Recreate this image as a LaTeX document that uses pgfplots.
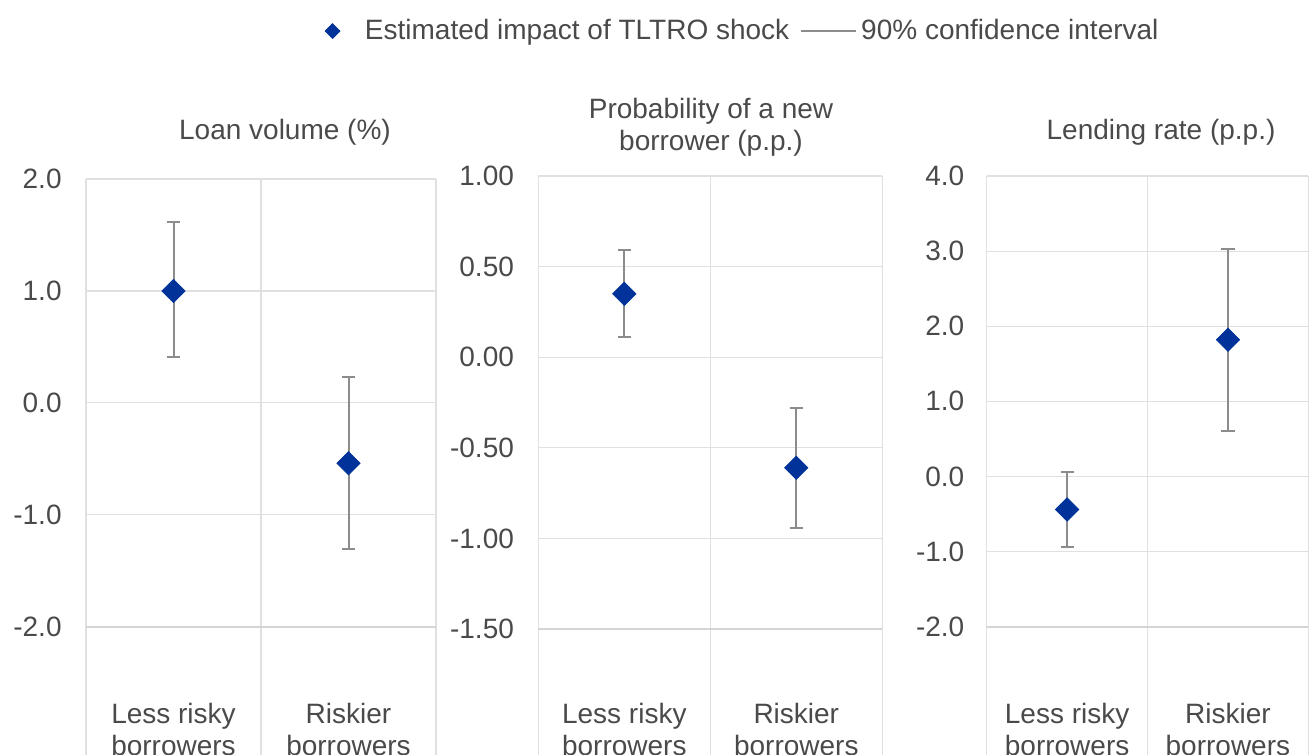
\documentclass[border=0pt]{standalone}
\usepackage{fontspec}
\setmainfont{Liberation Sans}
\usepackage{pgfplots}
\pgfplotsset{compat=1.18}
\definecolor{ecbblue}{HTML}{003299}
\definecolor{txt}{HTML}{4A4A4A}
\definecolor{gridc}{HTML}{E0E0E0}
\definecolor{axc}{HTML}{D4D4D4}
\definecolor{errc}{HTML}{8C8C8C}
\pgfplotsset{
  panel/.style={
    anchor=south west, scale only axis,
    xmin=0, xmax=2, clip=false,
    axis line style={draw=none},
    major tick length=0pt,
    ymajorgrids, grid style={gridc, line width=0.6pt},
    xtick={0.5,1.5},
    xticklabels={{Less risky\\borrowers},{Riskier\\borrowers}},
    xticklabel style={align=center, anchor=north, inner sep=0pt, yshift=-38pt, font=\fontsize{14}{16}\selectfont, text=txt},
    yticklabel style={anchor=east, inner sep=0pt, xshift=-12pt, font=\fontsize{14}{16}\selectfont, text=txt},
  },
  pts/.style={only marks, mark=square*, mark size=4.1pt,
    mark options={rotate=45, fill=ecbblue, draw=ecbblue},
    error bars/.cd, y dir=both, y explicit,
    error mark=|,
    error bar style={errc, line width=1pt},
    error mark options={errc, line width=1pt, mark size=3.3pt},
    /pgfplots/.cd},
}
\newcommand{\vlines}[2]{%
  \draw[gridc, line width=0.6pt] (axis cs:0,#1) -- (axis cs:0,#2) -- ([yshift=-80pt]axis cs:0,#2);
  \draw[gridc, line width=0.6pt] (axis cs:1,#1) -- (axis cs:1,#2) -- ([yshift=-80pt]axis cs:1,#2);
  \draw[gridc, line width=0.6pt] (axis cs:2,#1) -- (axis cs:2,#2) -- ([yshift=-80pt]axis cs:2,#2);
  \draw[axc, line width=1pt] (axis cs:0,#2) -- (axis cs:2,#2);
}
\begin{document}
\begin{tikzpicture}
\clip (0,0) rectangle (654.5pt,377pt);
% Panel 1
\begin{axis}[panel, at={(43pt,63.65pt)}, width=175pt, height=223.85pt,
  ymin=-2, ymax=2, ytick={-2,-1,0,1,2}, yticklabels={-2.0,-1.0,0.0,1.0,2.0}]
\vlines{2}{-2}
\addplot[pts] coordinates {(0.5,1.00) += (0,0.62) -= (0,0.59) (1.5,-0.54) += (0,0.77) -= (0,0.77)};
\end{axis}
% Panel 2
\begin{axis}[panel, at={(269.15pt,62.5pt)}, width=172pt, height=226.5pt,
  ymin=-1.5, ymax=1, ytick={-1.5,-1,-0.5,0,0.5,1}, yticklabels={-1.50,-1.00,-0.50,0.00,0.50,1.00},
  xticklabel style={yshift=1.2pt},
  legend columns=2,
  legend style={at={(axis description cs:0.585,1.32)}, anchor=center, draw=none, fill=none,
    font=\fontsize{14}{16}\selectfont, text=txt, inner sep=0pt,
    /tikz/every even column/.append style={column sep=3.5pt}},
  ]
\vlines{1}{-1.5}
\addlegendimage{legend image code/.code={\path[draw=none] (0pt,0pt) -- (22.2pt,0pt);\fill[ecbblue] (8pt,3.7pt)--(11.7pt,0pt)--(8pt,-3.7pt)--(4.3pt,0pt)--cycle;}}
\addlegendentry{Estimated impact of TLTRO shock}
\addlegendimage{legend image code/.code={\draw[errc, line width=1pt] (0pt,0pt)--(27.5pt,0pt);}}
\addlegendentry{90\% confidence interval}
\addplot[forget plot, pts] coordinates {(0.5,0.35) += (0,0.24) -= (0,0.24) (1.5,-0.61) += (0,0.33) -= (0,0.33)};
\end{axis}
% Panel 3
\begin{axis}[panel, at={(493.35pt,63.65pt)}, width=160.8pt, height=225.35pt,
  ymin=-2, ymax=4, ytick={-2,-1,0,1,2,3,4}, yticklabels={-2.0,-1.0,0.0,1.0,2.0,3.0,4.0},
  yticklabel style={xshift=1pt}]
\vlines{4}{-2}
\addplot[pts] coordinates {(0.5,-0.44) += (0,0.50) -= (0,0.50) (1.5,1.82) += (0,1.21) -= (0,1.21)};
\end{axis}
% Titles
\begin{scope}[every node/.style={font=\fontsize{14}{16}\selectfont, text=txt, anchor=base, inner sep=0pt}]
\node at (142.5pt,307pt) {Loan volume (\%)};
\node at (355.5pt,317.85pt) {Probability of a new};
\node at (355.5pt,301.65pt) {borrower (p.p.)};
\node at (580.5pt,307pt) {Lending rate (p.p.)};
\end{scope}
\end{tikzpicture}
\end{document}
